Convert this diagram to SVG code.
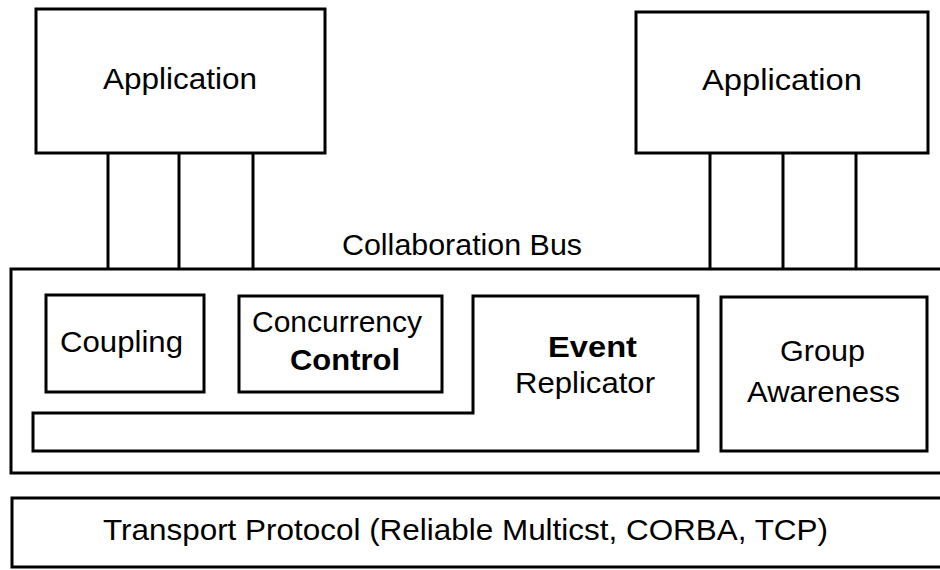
<svg xmlns="http://www.w3.org/2000/svg" width="940" height="570" viewBox="0 0 940 570">
  <style>
    .box { fill: #ffffff; stroke: #000000; stroke-width: 3; }
    .link { stroke: #000000; stroke-width: 3; fill: none; }
    .lbl { font-family: "Liberation Sans", Arial, sans-serif; font-size: 30px; fill: #000000; }
    .bold { font-weight: bold; }
  </style>
  <rect width="940" height="570" fill="#ffffff"/>

  <!-- Links from applications down to the collaboration bus -->
  <g id="connectors">
    <line class="link" x1="108" y1="153" x2="108" y2="269"/>
    <line class="link" x1="179" y1="153" x2="179" y2="269"/>
    <line class="link" x1="253" y1="153" x2="253" y2="269"/>
    <line class="link" x1="710" y1="153" x2="710" y2="269"/>
    <line class="link" x1="783" y1="153" x2="783" y2="269"/>
    <line class="link" x1="856" y1="153" x2="856" y2="269"/>
  </g>

  <g id="app-left">
    <rect class="box" x="36" y="9" width="289" height="144"/>
    <text class="lbl" x="103" y="89" textLength="154" lengthAdjust="spacingAndGlyphs">Application</text>
  </g>

  <g id="app-right">
    <rect class="box" x="636" y="12" width="292" height="141"/>
    <text class="lbl" x="702" y="90" textLength="160" lengthAdjust="spacingAndGlyphs">Application</text>
  </g>

  <g id="bus-label">
    <text class="lbl" x="342" y="255" textLength="240" lengthAdjust="spacingAndGlyphs">Collaboration Bus</text>
  </g>

  <!-- Bus container runs off the right edge -->
  <g id="collaboration-bus">
    <path class="box" d="M950,269 L11,269 L11,473 L950,473"/>
  </g>

  <g id="coupling">
    <rect class="box" x="46" y="295" width="158" height="97"/>
    <text class="lbl" x="60" y="352" textLength="123" lengthAdjust="spacingAndGlyphs">Coupling</text>
  </g>

  <g id="concurrency-control">
    <rect class="box" x="239" y="296" width="203" height="96"/>
    <text class="lbl" x="252" y="332" textLength="170" lengthAdjust="spacingAndGlyphs">Concurrency</text>
    <text class="lbl bold" x="290" y="370" textLength="110" lengthAdjust="spacingAndGlyphs">Control</text>
  </g>

  <g id="event-replicator">
    <path class="box" d="M33,413 L473,413 L473,296 L698,296 L698,451 L33,451 Z"/>
    <text class="lbl bold" x="548" y="357" textLength="89" lengthAdjust="spacingAndGlyphs">Event</text>
    <text class="lbl" x="515" y="393" textLength="140" lengthAdjust="spacingAndGlyphs">Replicator</text>
  </g>

  <g id="group-awareness">
    <rect class="box" x="721" y="297" width="206" height="154"/>
    <text class="lbl" x="780" y="361" textLength="85" lengthAdjust="spacingAndGlyphs">Group</text>
    <text class="lbl" x="747" y="402" textLength="153" lengthAdjust="spacingAndGlyphs">Awareness</text>
  </g>

  <g id="transport-protocol">
    <path class="box" d="M950,498 L12,498 L12,567 L950,567"/>
    <text class="lbl" x="103" y="540" textLength="725" lengthAdjust="spacingAndGlyphs">Transport Protocol (Reliable Multicst, CORBA, TCP)</text>
  </g>
</svg>
